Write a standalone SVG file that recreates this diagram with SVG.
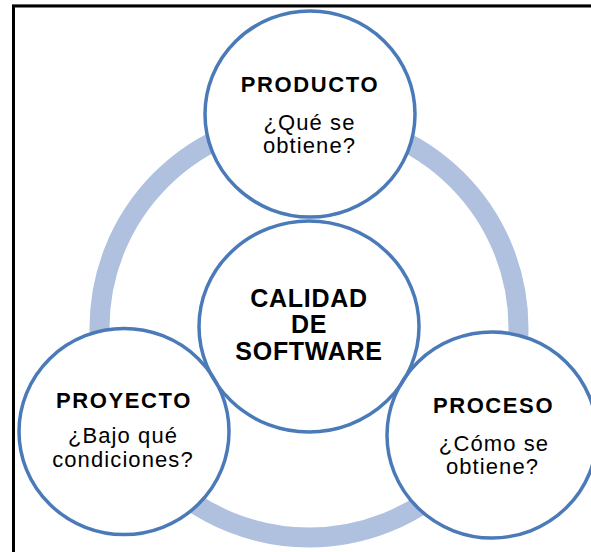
<svg xmlns="http://www.w3.org/2000/svg" xmlns:xlink="http://www.w3.org/1999/xlink" width="591" height="552" viewBox="0 0 591 552">
  <style>
    .fill { fill: #ffffff; stroke: none; }
    .outline { fill: none; stroke: #4a7ab7; stroke-width: 3.5; }
    .head { font-family: "Liberation Sans", Arial, sans-serif; font-weight: bold; font-size: 22px; fill: #000; text-anchor: middle; letter-spacing: 1.6px; }
    .sub { font-family: "Liberation Sans", Arial, sans-serif; font-size: 22px; fill: #000; text-anchor: middle; letter-spacing: 1.1px; }
    .center { font-family: "Liberation Sans", Arial, sans-serif; font-weight: bold; font-size: 25px; fill: #000; text-anchor: middle; letter-spacing: 0.7px; }
  </style>
  <defs>
    <ellipse id="e-top" cx="310" cy="114" rx="105" ry="103"/>
    <ellipse id="e-center" cx="309" cy="326.5" rx="110" ry="105.5"/>
    <ellipse id="e-left" cx="124" cy="431.5" rx="105" ry="103"/>
    <ellipse id="e-right" cx="492" cy="435" rx="105" ry="103"/>
  </defs>
  <rect x="0" y="0" width="591" height="552" fill="#ffffff"/>
  <path d="M 12 4.5 H 591" stroke="#c8c8c8" stroke-width="1" fill="none"/>
  <path d="M 13.5 552 V 6 H 591" stroke="#000" stroke-width="3" fill="none"/>
  <g id="ring">
    <circle cx="309" cy="328" r="209.5" fill="none" stroke="#afc1de" stroke-width="20"/>
  </g>
  <g id="node-calidad">
    <use xlink:href="#e-center" href="#e-center" class="fill"/>
    <text class="center" x="309" y="307">CALIDAD</text>
    <text class="center" x="309" y="333">DE</text>
    <text class="center" x="309" y="360">SOFTWARE</text>
  </g>
  <g id="node-producto">
    <use xlink:href="#e-top" href="#e-top" class="fill"/>
    <text class="head" x="310" y="92">PRODUCTO</text>
    <text class="sub" x="309.5" y="129.5">¿Qué se</text>
    <text class="sub" x="309.5" y="153">obtiene?</text>
  </g>
  <g id="node-proyecto">
    <use xlink:href="#e-left" href="#e-left" class="fill"/>
    <text class="head" x="124" y="408">PROYECTO</text>
    <text class="sub" x="123" y="443">¿Bajo qué</text>
    <text class="sub" x="123" y="466.5">condiciones?</text>
  </g>
  <g id="node-proceso">
    <use xlink:href="#e-right" href="#e-right" class="fill"/>
    <text class="head" x="493.5" y="412.5">PROCESO</text>
    <text class="sub" x="494" y="451">¿Cómo se</text>
    <text class="sub" x="492.5" y="474">obtiene?</text>
  </g>
  <g id="outlines">
    <use xlink:href="#e-top" href="#e-top" class="outline"/>
    <use xlink:href="#e-center" href="#e-center" class="outline"/>
    <use xlink:href="#e-left" href="#e-left" class="outline"/>
    <use xlink:href="#e-right" href="#e-right" class="outline"/>
  </g>
</svg>
